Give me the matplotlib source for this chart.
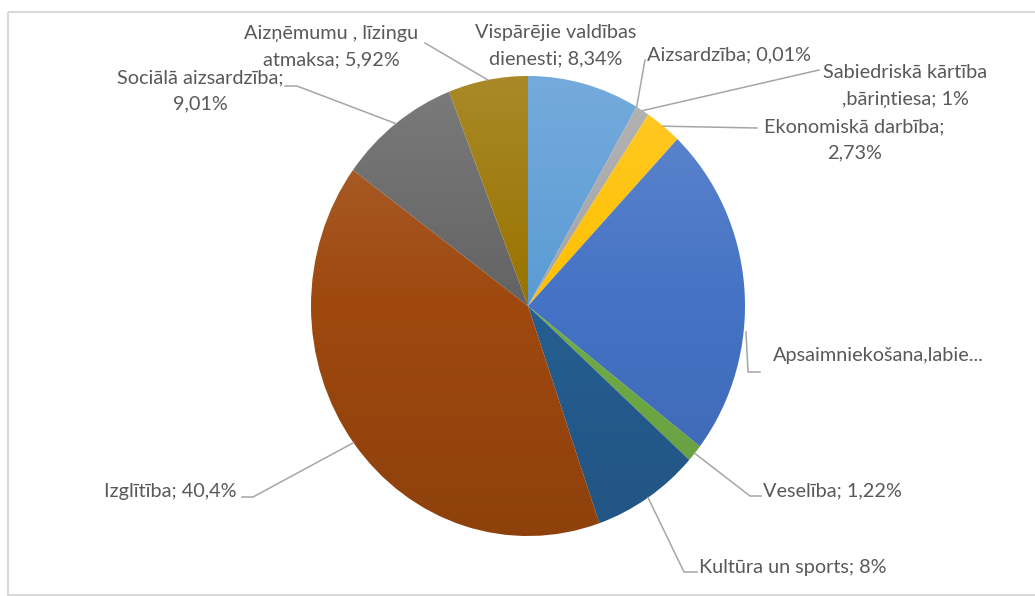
import matplotlib
matplotlib.use("Agg")
import matplotlib.pyplot as plt
import numpy as np
from matplotlib.patches import Ellipse, Rectangle

# ---- data ----
categories = ["Vispārējie valdības dienesti", "Aizsardzība", "Sabiedriskā kārtība ,bāriņtiesa",
              "Ekonomiskā darbība", "Apsaimniekošana,labiekārtošana", "Veselība",
              "Kultūra un sports", "Izglītība", "Sociālā aizsardzība", "Aizņēmumu , līzingu atmaksa"]
values = [8.34, 0.01, 1.0, 2.73, 23.37, 1.22, 8.0, 40.4, 9.01, 5.92]
labels = ["Vispārējie valdības\ndienesti; 8,34%", "Aizsardzība; 0,01%",
          "Sabiedriskā kārtība\n,bāriņtiesa; 1%", "Ekonomiskā darbība;\n2,73%",
          "Apsaimniekošana,labie...", "Veselība; 1,22%", "Kultūra un sports; 8%",
          "Izglītība; 40,4%", "Sociālā aizsardzība;\n9,01%", "Aizņēmumu , līzingu\natmaksa; 5,92%"]
colors = ["#5B9BD5", "#ED7D31", "#A5A5A5", "#FFC000", "#4472C4", "#70AD47",
          "#255E91", "#9E480E", "#636363", "#997300"]

W, H = 1035, 596
fig = plt.figure(figsize=(W / 100, H / 100), dpi=100)
fig.patch.set_facecolor("white")

# pie geometry (pixels)
cx, cy, rx, ry = 528, 306, 217, 230
axp = fig.add_axes([(cx - rx) / W, 1 - (cy + ry) / H, 2 * rx / W, 2 * ry / H])
wedges, _ = axp.pie(values, colors=colors, startangle=90, counterclock=False,
                    wedgeprops=dict(linewidth=0))
axp.set_aspect("auto")
axp.set_xlim(-1, 1)
axp.set_ylim(-1, 1)
axp.axis("off")

# subtle vertical shading like the Excel gradient
rgba = np.zeros((256, 2, 4))
top_a, bot_a = 0.16, 0.10
for i, g in enumerate(np.linspace(0, 1, 256)):
    if g < 0.5:
        rgba[i, :, :3] = 1.0
        rgba[i, :, 3] = top_a * (1 - g / 0.5)
    else:
        rgba[i, :, :3] = 0.0
        rgba[i, :, 3] = bot_a * ((g - 0.5) / 0.5)
im = axp.imshow(rgba, extent=(-1, 1, -1, 1), origin="upper", aspect="auto", zorder=3)
clip = Ellipse((0, 0), 2, 2, transform=axp.transData)
im.set_clip_path(clip)

# overlay axes in pixel coordinates
ax = fig.add_axes([0, 0, 1, 1])
ax.set_xlim(0, W)
ax.set_ylim(H, 0)
ax.axis("off")
ax.patch.set_alpha(0)

ax.add_patch(Rectangle((8, 12), W + 10, 583, fill=False, edgecolor="#d9d9d9", lw=1.5))

# mid-angle points on the pie edge
cum = np.cumsum([0] + values)
tot = cum[-1]
def edge_pt(i):
    th = np.deg2rad((cum[i] + cum[i + 1]) / 2 / tot * 360)
    return cx + rx * np.sin(th), cy - ry * np.cos(th)

fam = ["Lato", "DejaVu Sans"]
tc = "#595959"
lc = "#a6a6a6"
fs = 14.3
ls = 1.65

def txt(x, y, s, ha):
    ax.text(x, y, s, ha=ha, va="center", color=tc, fontsize=fs, family=fam,
            linespacing=ls, multialignment="center")

def leader(pts):
    xs, ys = zip(*pts)
    ax.plot(xs, ys, color=lc, lw=1.1, solid_joinstyle="round")

# labels and leaders
txt(556, 46, labels[0], "center")
txt(647, 55, labels[1], "left")
leader([(645, 60), edge_pt(1)])
txt(905, 86, labels[2], "center")
leader([(819, 70), edge_pt(2)])
txt(854, 140, labels[3], "center")
leader([(757, 128), edge_pt(3)])
txt(773, 355, labels[4], "left")
leader([(746, 332), (748, 372), (760, 372)])
txt(763, 491, labels[5], "left")
leader([edge_pt(5), (750, 496), (761, 496)])
txt(699, 567, labels[6], "left")
leader([edge_pt(6), (684, 572), (697, 572)])
txt(237, 492, labels[7], "right")
leader([(242, 497), (253, 497), edge_pt(7)])
txt(200, 91, labels[8], "center")
leader([(285, 86), (297, 86), edge_pt(8)])
txt(331, 47, labels[9], "center")
leader([(425, 43), edge_pt(9)])

fig.savefig("out.png", dpi=100, facecolor="white")
